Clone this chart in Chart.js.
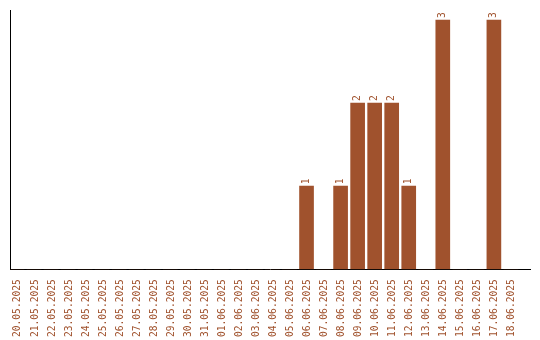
<!DOCTYPE html>
<html>
<head>
<meta charset="utf-8">
<script src="https://cdn.jsdelivr.net/npm/chart.js@4"></script>
<style>
  html, body { margin: 0; padding: 0; background: #fff; }
  #wrap { width: 540px; height: 340px; }
</style>
</head>
<body>
<div id="wrap"><canvas id="chart"></canvas></div>
<script>
// dates on the x axis
var dayLabels = ['20.05.2025', '21.05.2025', '22.05.2025', '23.05.2025', '24.05.2025',
    '25.05.2025', '26.05.2025', '27.05.2025', '28.05.2025', '29.05.2025',
    '30.05.2025', '31.05.2025', '01.06.2025', '02.06.2025', '03.06.2025',
    '04.06.2025', '05.06.2025', '06.06.2025', '07.06.2025', '08.06.2025',
    '09.06.2025', '10.06.2025', '11.06.2025', '12.06.2025', '13.06.2025',
    '14.06.2025', '15.06.2025', '16.06.2025', '17.06.2025', '18.06.2025'];
// count per day
var dayCounts = [0, 0, 0, 0, 0, 0, 0, 0, 0, 0,
    0, 0, 0, 0, 0, 0, 0, 1, 0, 1,
    2, 2, 2, 1, 0, 3, 0, 0, 3, 0];

var barColor = '#A0522D';

// day index -> point, so the x axis can run a bit past the last day like the original
var dayPoints = dayCounts.map(function (v, i) { return { x: i, y: v }; });

// writes the value above each bar, turned on its side
var valueLabels = {
    id: 'valueLabels',
    afterDatasetsDraw: function (chart) {
        var ctx = chart.ctx;
        var meta = chart.getDatasetMeta(0);
        ctx.save();
        ctx.fillStyle = barColor;
        ctx.font = '9.6px "DejaVu Sans Mono"';
        ctx.textAlign = 'left';
        ctx.textBaseline = 'middle';
        meta.data.forEach(function (bar, i) {
            var v = dayCounts[i];
            if (!v) return;
            ctx.save();
            ctx.translate(bar.x, bar.y - 2);
            ctx.rotate(-Math.PI / 2);
            ctx.fillText(String(v), 0, 0);
            ctx.restore();
        });
        ctx.restore();
    }
};

var ctx = document.getElementById('chart').getContext('2d');
var chartDays = new Chart(ctx, {
    type: 'bar',
    data: {
        datasets: [{
            data: dayPoints,
            backgroundColor: barColor,
            barThickness: 14
        }]
    },
    options: {
        responsive: true,
        maintainAspectRatio: false,
        animation: false,
        layout: { padding: { left: 2, right: 10, top: 10, bottom: 1 } },
        plugins: {
            legend: { display: false },
            tooltip: { enabled: false }
        },
        scales: {
            x: {
                type: 'linear',
                min: -0.41,
                max: 30.12,
                offset: false,
                grid: { display: false },
                border: { color: '#000', width: 1 },
                afterBuildTicks: function (axis) {
                    axis.ticks = dayLabels.map(function (d, i) { return { value: i }; });
                },
                ticks: {
                    color: barColor,
                    font: { family: 'DejaVu Sans Mono', size: 9.6 },
                    minRotation: 90,
                    maxRotation: 90,
                    autoSkip: false,
                    padding: 2,
                    labelOffset: 1,
                    callback: function (value) { return dayLabels[value]; }
                }
            },
            y: {
                min: 0,
                max: 3.12,
                grid: { display: false },
                border: { color: '#000', width: 1 },
                ticks: { display: false }
            }
        }
    },
    plugins: [valueLabels]
});
</script>
</body>
</html>
